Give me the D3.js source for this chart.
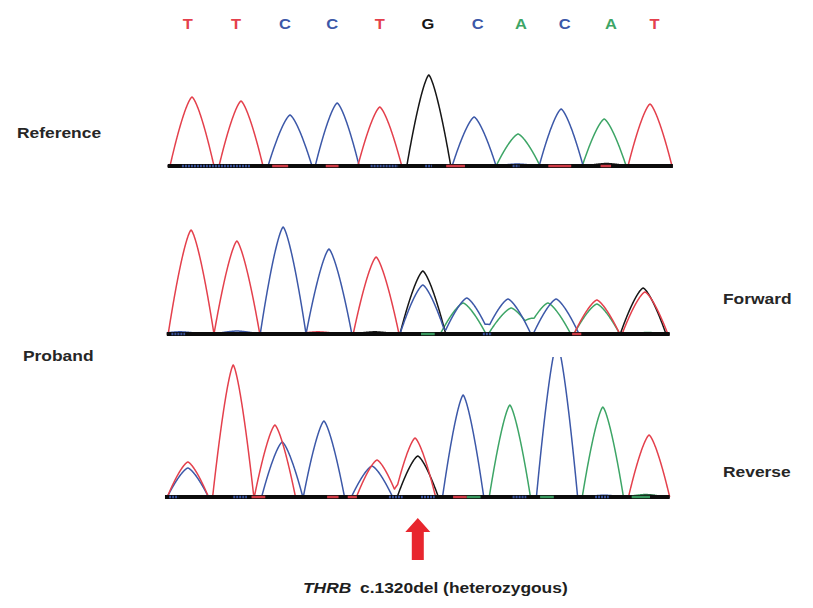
<!DOCTYPE html>
<html>
<head>
<meta charset="utf-8">
<script src="https://cdn.jsdelivr.net/npm/d3@7"></script>
<style>
	body{ margin:0; background:#fff; }
	text{ font-family:"Liberation Sans", Arial, sans-serif; font-weight:bold; }
</style>
</head>
<body>
<div id="chart"></div>
<script>
"use strict";

//********************************* DATA *********************************
var calls   = ["T","T","C","C","T","G","C","A","C","A","T"];		//base calls printed on top
var callPos = [-0.09, 0.96, 2.03, 3.06, 4.10, 5.15, 6.24, 7.18, 8.14, 9.15, 10.1];

//peaks: [channel, position (base units), signal]
var refPeaks = [
	["T",0.00,690],["T",1.07,650],["C",2.14,510],["C",3.17,630],["T",4.10,590],
	["G",5.17,910],["C",6.16,490],["A",7.12,320],["C",8.06,570],["A",9.00,470],["T",10.0,620],
	["C",7.10,20],["G",9.05,25]
];
var fwdPeaks = [
	["T",-0.02,1040],["T",0.98,930],["C",1.99,1070],["C",2.99,850],["T",4.02,770],
	["G",5.04,630],["C",5.04,490],
	["A",5.92,310],["C",6.00,360],["A",6.97,260],["C",6.90,350],["A",7.77,310],["C",7.95,350],
	["T",8.84,340],["A",8.84,300],["G",9.85,460],["T",9.89,420],
	["C",-0.26,22],["C",0.98,30],["T",2.75,22],["G",3.99,22],["A",9.95,15]
];
var revPeaks = [
	["T",-0.09,350],["C",-0.09,290],["T",0.90,1320],["T",1.81,720],["C",1.97,550],
	["C",2.88,760],["T",4.04,370],["C",3.93,310],["T",4.87,590],["G",4.93,410],
	["C",5.92,1020],["A",6.94,920],["C",7.97,1550],["A",8.97,880],["T",9.98,620],
	["A",9.00,20],["C",9.00,18],["A",9.90,25],["G",9.95,18]
];

//coloured bits on the thick baseline: [channel, from, to]
var refBaseSegs = [["C",-0.22,1.27],["T",1.75,2.10],["T",2.92,3.20],["C",3.90,4.50],["C",5.09,5.24],["T",5.55,5.96],["C",7.00,7.15],["T",7.78,8.28],["T",8.92,9.15]];
var fwdBaseSegs = [["C",-0.45,-0.15],["A",5.0,5.3],["C",6.35,6.55],["T",8.3,8.5]];
var revBaseSegs = [["C",-0.5,-0.3],["C",0.9,1.2],["T",1.3,1.6],["T",2.95,3.2],["T",3.4,3.6],["C",4.3,4.6],["C",5.0,5.3],["T",5.7,6.0],["A",6.0,6.3],["C",7.0,7.3],["A",7.6,7.9],["C",8.8,9.1],["A",9.6,10.0]];

//peak foot half width differs a little between the three runs
var panels = [
	{name:"reference", peaks:refPeaks, segs:refBaseSegs, base:166, lo:-0.53, hi:10.5,  top:0,   halfW:0.48},
	{name:"forward",   peaks:fwdPeaks, segs:fwdBaseSegs, base:334, lo:-0.55, hi:10.43, top:0,   halfW:0.50},
	{name:"reverse",   peaks:revPeaks, segs:revBaseSegs, base:497, lo:-0.59, hi:10.43, top:357, halfW:0.45}
];

var arrowPos = 4.93;

//********************************* STYLE *********************************
var colors = {A:"#3da566", C:"#3c58a8", G:"#161616", T:"#e4404c"};
var peakPow = 1.4;				//1 = triangle, bigger = rounder top

var width = 813, height = 608;
var stretch = 1.2;				//the figure's text is drawn wide

var svg = d3.select("#chart").append("svg")
	.attr("width", width)
	.attr("height", height);

svg.append("rect").attr("width", width).attr("height", height).attr("fill", "#fff");

//one x scale for all three traces (they are lined up by eye in the figure)
var x = d3.scaleLinear().domain([0, 10]).range([192, 650]);

//signal of one channel at position t = sum of its peaks
function signal(peaks, ch, t, w){
	var s = 0;
	for(var i = 0; i < peaks.length; ++i){
		if(peaks[i][0] != ch) continue;
		var d = Math.abs(t - peaks[i][1]) / w;
		if(d < 1){
			s += peaks[i][2] * (1 - Math.pow(d, peakPow));
		}
	}
	return s;
}

//********************************* TRACES *********************************
panels.forEach(function(p, pi){
	var y = d3.scaleLinear().domain([0, 1000]).range([p.base, p.base - 100]);
	var g = svg.append("g").attr("class", "panel-" + p.name);

	if(p.top > 0){
		svg.append("clipPath").attr("id", "clip" + pi)
			.append("rect").attr("x", 0).attr("y", p.top).attr("width", width).attr("height", p.base - p.top + 10);
		g.attr("clip-path", "url(#clip" + pi + ")");
	}

	var ts = d3.range(p.lo, p.hi + 0.0001, 0.004);
	var line = d3.line()
		.x(function(d){ return x(d[0]); })
		.y(function(d){ return y(d[1]); });

	//draw order: black under the coloured ones, like in the figure
	["A","G","C","T"].forEach(function(ch){
		var pts = ts.map(function(t){ return [t, signal(p.peaks, ch, t, p.halfW)]; });
		g.append("path")
			.attr("d", line(pts))
			.attr("fill", "none")
			.attr("stroke", colors[ch])
			.attr("stroke-width", 1.5)
			.attr("stroke-linejoin", "round");
	});

	//thick baseline
	g.append("line")
		.attr("x1", x(p.lo)).attr("x2", x(p.hi))
		.attr("y1", y(0)).attr("y2", y(0))
		.attr("stroke", "#0c0c0c")
		.attr("stroke-width", 4);

	g.selectAll("line.seg")
		.data(p.segs)
		.enter()
			.append("line")
			.attr("class", "seg")
			.attr("x1", function(d){ return x(d[1]); })
			.attr("x2", function(d){ return x(d[2]); })
			.attr("y1", y(0)).attr("y2", y(0))
			.attr("stroke", function(d){ return colors[d[0]]; })
			.attr("stroke-width", 2.5)
			.attr("stroke-dasharray", function(d){ return d[0] == "C" ? "2,1" : null; })
			.attr("opacity", 0.9);
});

//********************************* LABELS *********************************
svg.selectAll("text.call")
	.data(calls)
	.enter()
		.append("text")
		.attr("class", "call")
		.attr("transform", function(d, i){ return "translate(" + x(callPos[i]) + ",29) scale(1.1,1)"; })
		.attr("text-anchor", "middle")
		.attr("font-size", 15)
		.attr("fill", function(d){ return colors[d]; })
		.text(function(d){ return d; });

function label(txt, lx, ly){
	return svg.append("text")
		.attr("transform", "translate(" + lx + "," + ly + ") scale(" + stretch + ",1)")
		.attr("font-size", 14.5)
		.attr("fill", "#262626")
		.text(txt);
}
label("Reference", 17, 138);
label("Forward", 723, 304);
label("Proband", 23, 361);
label("Reverse", 723, 477);

//arrow pointing at the deleted base
var ax = x(arrowPos);
svg.append("path")
	.attr("d", "M" + ax + ",518 L" + (ax + 12.5) + ",532 L" + (ax + 6) + ",532 L" + (ax + 6) + ",560 L" +
		(ax - 6) + ",560 L" + (ax - 6) + ",532 L" + (ax - 12.5) + ",532 Z")
	.attr("fill", "#e8262e");

label("THRB", 303, 593).attr("font-style", "italic").attr("fill", "#1e1e1e");
label("c.1320del (heterozygous)", 360, 593).attr("fill", "#1e1e1e");
</script>
</body>
</html>
